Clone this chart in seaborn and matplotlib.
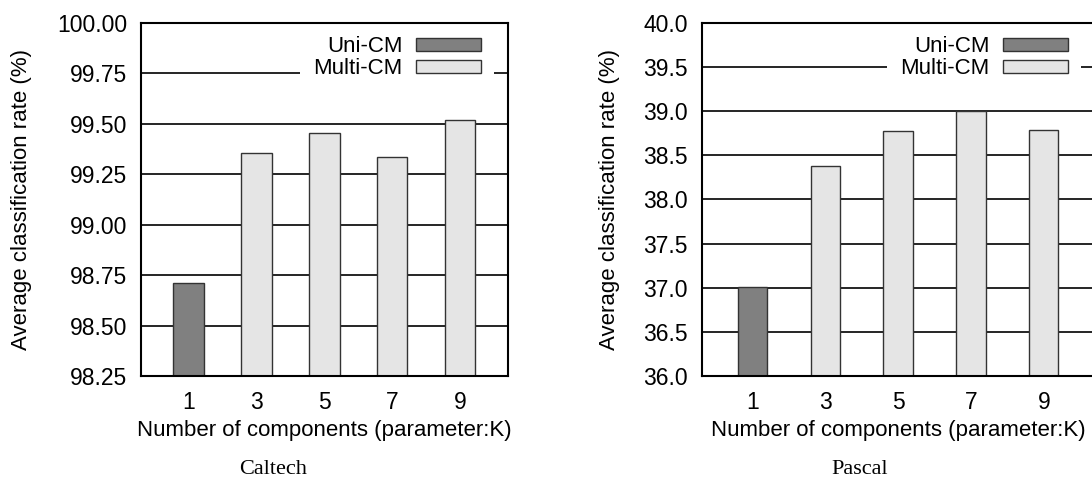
import pandas as pd
import matplotlib
matplotlib.use("Agg")
import matplotlib.pyplot as plt
import seaborn as sns
from matplotlib.patches import Patch

# Datos
componentes = [1, 3, 5, 7, 9]
metodos = ["Uni-CM", "Multi-CM", "Multi-CM", "Multi-CM", "Multi-CM"]
caltech = [98.71, 99.353, 99.452, 99.336, 99.516]
pascal = [37.01, 38.38, 38.77, 39.0, 38.78]
caltech_ticks = [98.25, 98.50, 98.75, 99.00, 99.25, 99.50, 99.75, 100.00]
pascal_ticks = [36.0, 36.5, 37.0, 37.5, 38.0, 38.5, 39.0, 39.5, 40.0]

colores = {"Uni-CM": "#808080", "Multi-CM": "#e5e5e5"}

sns.set_theme(style="white")
plt.rcParams['font.family'] = ['Liberation Sans', 'DejaVu Sans']

fig = plt.figure(figsize=(10.92, 4.79), dpi=100)
ax1 = fig.add_axes([141 / 1092, 103 / 479, 366.6 / 1092, 353.3 / 479])
ax2 = fig.add_axes([701.7 / 1092, 103 / 479, 393 / 1092, 353.3 / 479])


def dibujar(ax, valores, ticks, ancho, fmt, ancho_px, ypad):
    df = pd.DataFrame({"K": componentes, "rate": valores, "method": metodos})
    sns.barplot(data=df, x="K", y="rate", hue="method", palette=colores,
                native_scale=True, dodge=False, width=ancho, errorbar=None,
                edgecolor="#333333", linewidth=1.0, legend=False, ax=ax,
                zorder=2)
    ax.set_xlim(-0.4, 10.4)
    ax.set_ylim(ticks[0], ticks[-1])
    ax.set_xticks(componentes)
    ax.set_xticklabels([str(c) for c in componentes])
    ax.set_yticks(ticks)
    ax.set_yticklabels([fmt.format(t) for t in ticks])
    ax.yaxis.grid(True, color="black", linewidth=1.2)
    ax.set_axisbelow(True)
    ax.tick_params(axis="y", length=0, pad=10, labelsize=16.5, colors="black")
    ax.tick_params(axis="x", length=0, pad=11, labelsize=16.5, colors="black")
    for s in ax.spines.values():
        s.set_color("black")
        s.set_linewidth(1.5)
    ax.set_xlabel("Number of components (parameter:K)", fontsize=16,
                  labelpad=4, color="black")
    ax.set_ylabel("Average classification rate (%)", fontsize=16,
                  labelpad=ypad, color="black")
    manejadores = [Patch(facecolor=colores[m], edgecolor="#333333",
                         linewidth=1.0, label=m) for m in ["Uni-CM", "Multi-CM"]]
    ley = ax.legend(handles=manejadores, loc="upper right", fontsize=16,
                    bbox_to_anchor=(1 - 13.4 / ancho_px, 1.0),
                    markerfirst=False, frameon=True, fancybox=False,
                    handlelength=2.93, handleheight=0.53, handletextpad=0.6,
                    labelspacing=0.05, borderpad=0.6, borderaxespad=0)
    ley.get_frame().set_facecolor("white")
    ley.get_frame().set_edgecolor("none")
    ley.get_frame().set_alpha(1)
    for t in ley.get_texts():
        t.set_color("black")
    ley.set_zorder(1.5)


dibujar(ax1, caltech, caltech_ticks, 0.45, "{:.2f}", 366.6, 18)
dibujar(ax2, pascal, pascal_ticks, 0.405, "{:.1f}", 393, 17)

fig.text(273 / 1092, 1 - 470 / 479, "Caltech", ha="center", va="center",
         fontsize=16, color="black", family=["Liberation Serif", "DejaVu Serif"])
fig.text(860 / 1092, 1 - 470 / 479, "Pascal", ha="center", va="center",
         fontsize=16, color="black", family=["Liberation Serif", "DejaVu Serif"])

fig.savefig("out.png", dpi=100)
